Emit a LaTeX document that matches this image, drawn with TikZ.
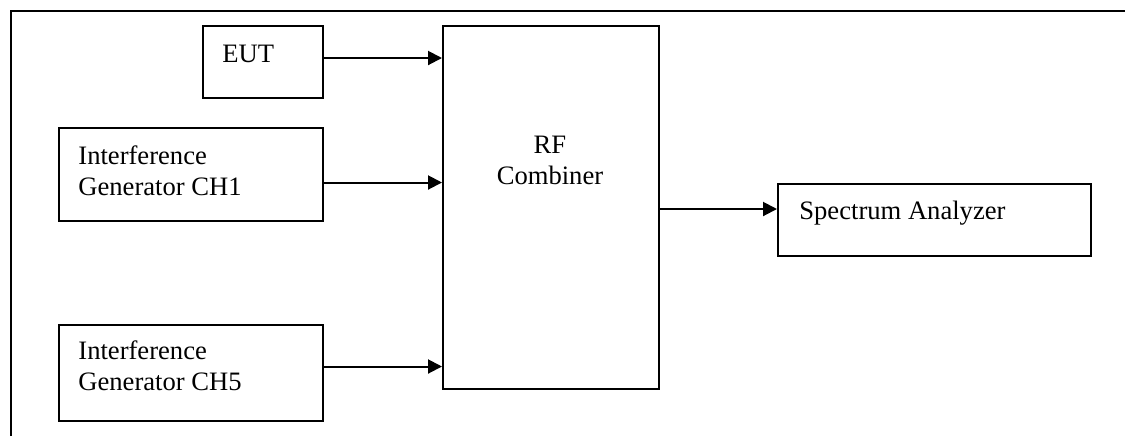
\documentclass[tikz,border=0pt]{standalone}
\usepackage{fontspec}
\setmainfont{Liberation Serif}
\usetikzlibrary{calc,arrows.meta}
\tikzset{
  blk/.style={draw,line width=1pt,minimum width=#1,inner sep=0pt},
  lbl/.style={anchor=base west,inner sep=0pt,align=left},
  arr/.style={-{Triangle[length=7pt,width=7pt]},line width=1pt}
}
\begin{document}
\begin{tikzpicture}[x=0.5pt,y=-0.5pt,line join=miter,font=\fontsize{13.3}{15.5}\selectfont]
\useasboundingbox (0,0) rectangle (1125,436);
\draw[line width=1.4pt] (11,436) -- (11,11) -- (1125,11); % frame
% boxes
\node[blk=60pt,minimum height=36pt] (eut) at (263,62) {};
\node[blk=132pt,minimum height=46.5pt] (gena) at (191,174.5) {};
\node[blk=132pt,minimum height=48pt] (genb) at (191,373) {};
\node[blk=108pt,minimum height=181.5pt] (comb) at (551,207.5) {};
\node[blk=156.5pt,minimum height=36pt] (spec) at (934.5,220) {};
% texts (base = last line)
\node[lbl] (eutlbl) at ($(eut.north west)+(20,37)$) {EUT};
\node[lbl] (genalbl) at ($(gena.north west)+(20,68)$) {Interference\\Generator CH1};
\node[lbl] (genblbl) at ($(genb.north west)+(20,66)$) {Interference\\Generator CH5};
\node[lbl,anchor=base,align=center] (comblbl) at ($(comb.north)+(-1,159)$) {RF\\Combiner};
\node[lbl] (speclbl) at ($(spec.north west)+(22,36)$) {Spectrum Analyzer};
% links
\draw[arr] (eut.east |- 0,58) -- (comb.west |- 0,58);
\draw[arr] (gena.east |- 0,182.5) -- (comb.west |- 0,182.5);
\draw[arr] (genb.east |- 0,366.5) -- (comb.west |- 0,366.5);
\draw[arr] (comb.east |- 0,209) -- (spec.west |- 0,209);
\end{tikzpicture}
\end{document}
